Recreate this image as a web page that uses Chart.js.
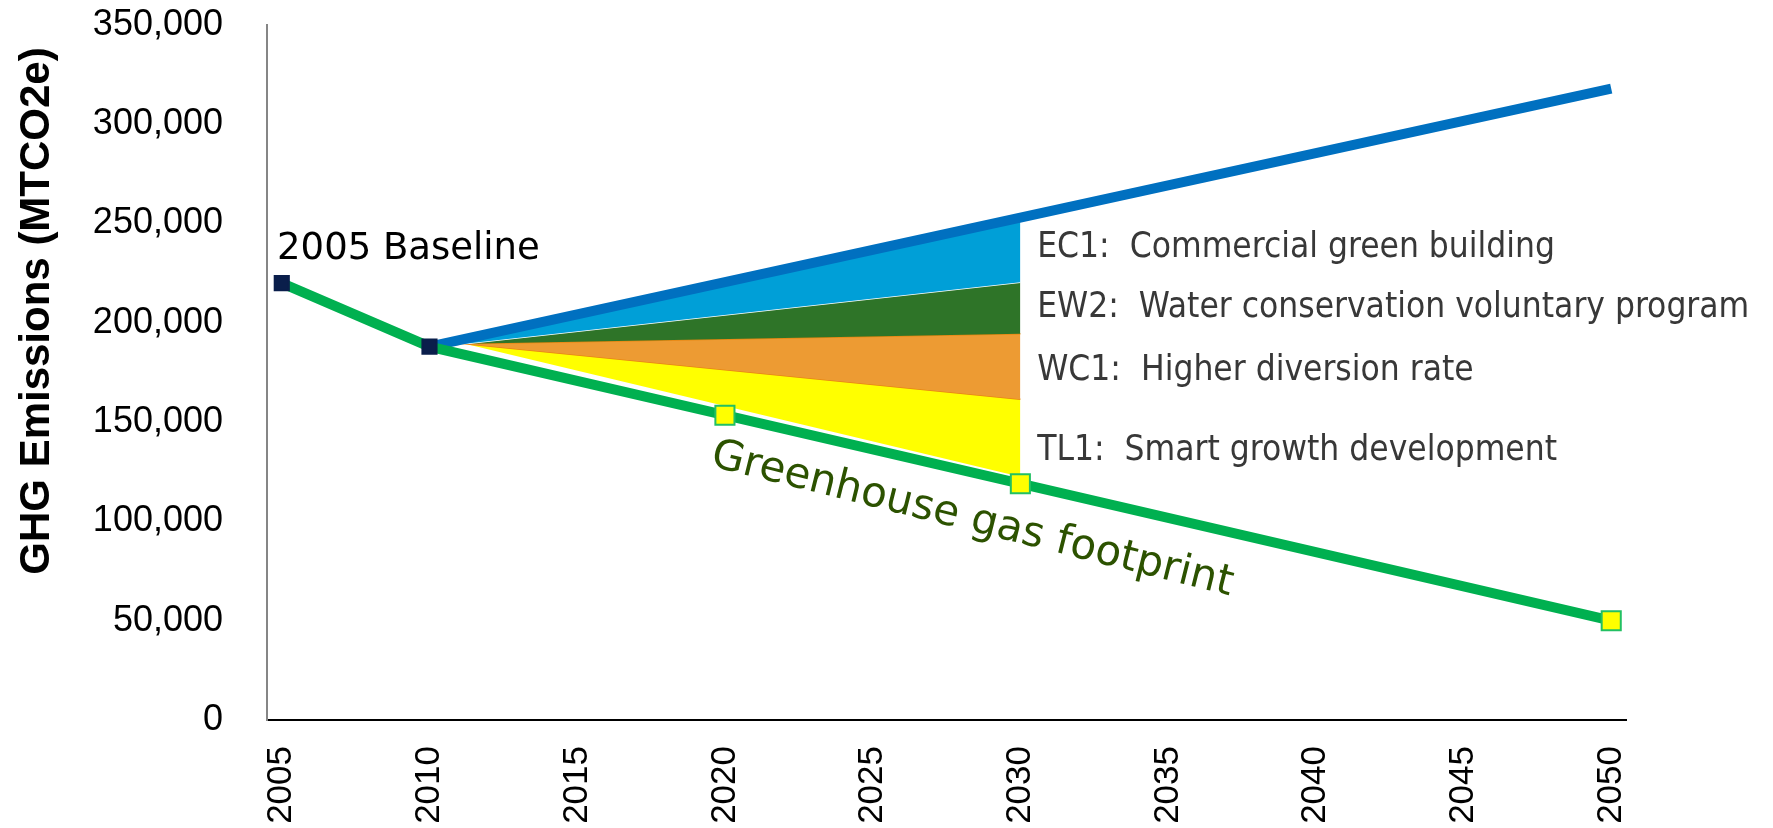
<!DOCTYPE html>
<html>
<head>
<meta charset="utf-8">
<script src="https://cdn.jsdelivr.net/npm/chart.js@4.4.1/dist/chart.umd.min.js"></script>
<style>
  html, body { margin: 0; padding: 0; background: #fff; }
  #wrap { width: 1773px; height: 828px; position: relative; }
</style>
</head>
<body>
<div id="wrap"><canvas id="graph"></canvas></div>
<script>
// years shown on the axis
const YEAR_TICKS = [2005, 2010, 2015, 2020, 2025, 2030, 2035, 2040, 2045, 2050];

// greenhouse gas footprint (target path)
const footprintYears = [2005, 2010, 2020, 2030, 2050];
const footprintValues = [220000, 188000, 153500, 119000, 50000];

// business as usual
const bauYears = [2010, 2050];
const bauValues = [188000, 318000];

// reduction wedges, boundaries from top to bottom
const wedgeYears = [2010, 2011.2, 2030];
const ec1Top = [188000, 191900, 252000];
const ec1Bottom = [188000, 189500, 220500];   // = EW2 top
const ew2Bottom = [188000, 189500, 194500];   // = WC1 top
const wc1Bottom = [188000, 189500, 161500];   // = TL1 top
const tl1Bottom = [188000, 189500, 122500];

const wedgeLabels = [
  'EC1:  Commercial green building',
  'EW2:  Water conservation voluntary program',
  'WC1:  Higher diversion rate',
  'TL1:  Smart growth development'
];
const wedgeLabelY = [237500, 207500, 175800, 135500];

function pts(xs, ys) {
  return xs.map((x, i) => ({ x: x, y: ys[i] }));
}

const NAVY = '#0a1e4b';
const GREEN = '#00b050';

const textPlugin = {
  id: 'texts',
  afterDraw(chart) {
    const c = chart.ctx;
    const xs = chart.scales.x, ys = chart.scales.y;
    c.save();
    // y axis title
    c.translate(37, 311);
    c.rotate(-Math.PI / 2);
    c.font = 'bold 42px "Liberation Sans", Arial, sans-serif';
    c.fillStyle = '#000';
    c.textAlign = 'center';
    c.textBaseline = 'middle';
    c.fillText('GHG Emissions (MTCO2e)', 0, 0);
    c.restore();

    c.save();
    c.fillStyle = '#000';
    c.font = '37px "DejaVu Sans", sans-serif';
    c.textAlign = 'left';
    c.textBaseline = 'middle';
    c.fillText('2005 Baseline', xs.getPixelForValue(2004.84), ys.getPixelForValue(237000));

    c.fillStyle = '#383838';
    c.font = '35px "DejaVu Sans Condensed", "DejaVu Sans", sans-serif';
    wedgeLabels.forEach((t, i) => {
      c.fillText(t, xs.getPixelForValue(2030.57), ys.getPixelForValue(wedgeLabelY[i]));
    });
    c.restore();

    c.save();
    c.translate(xs.getPixelForValue(2028.37), ys.getPixelForValue(100700));
    c.rotate(14 * Math.PI / 180);
    c.fillStyle = '#2c5200';
    c.font = '42px "DejaVu Sans", sans-serif';
    c.textAlign = 'center';
    c.textBaseline = 'middle';
    c.fillText('Greenhouse gas footprint', 0, 0);
    c.restore();
  }
};

const ctx = document.getElementById('graph').getContext('2d');

const myChart = new Chart(ctx, {
  type: 'line',
  data: {
    datasets: [
      {
        label: 'Greenhouse gas footprint',
        data: pts(footprintYears, footprintValues),
        borderColor: GREEN,
        borderWidth: 10,
        pointStyle: 'rect',
        pointRadius: [10, 10, 13.5, 13.5, 13.5],
        pointBackgroundColor: [NAVY, NAVY, '#ffff00', '#ffff00', '#ffff00'],
        pointBorderColor: [NAVY, NAVY, '#22c063', '#22c063', '#22c063'],
        pointBorderWidth: 2,
        fill: false
      },
      {
        label: 'Business as usual',
        data: pts(bauYears, bauValues),
        borderColor: '#0070c0',
        borderWidth: 10,
        pointRadius: 0,
        fill: false
      },
      {
        label: 'EC1',
        data: pts(wedgeYears, ec1Top),
        borderWidth: 0,
        pointRadius: 0,
        backgroundColor: '#009fd7',
        fill: '+1'
      },
      {
        label: 'EW2',
        data: pts(wedgeYears, ec1Bottom),
        borderColor: '#ffffff',
        borderWidth: 1.5,
        pointRadius: 0,
        backgroundColor: '#2e7428',
        fill: '+1'
      },
      {
        label: 'WC1',
        data: pts(wedgeYears, ew2Bottom),
        borderColor: '#e8860f',
        borderWidth: 1.5,
        pointRadius: 0,
        backgroundColor: '#ed9b33',
        fill: '+1'
      },
      {
        label: 'TL1',
        data: pts(wedgeYears, wc1Bottom),
        borderColor: '#e8860f',
        borderWidth: 1.5,
        pointRadius: 0,
        backgroundColor: '#ffff00',
        fill: '+1'
      },
      {
        label: 'TL1 bottom',
        data: pts(wedgeYears, tl1Bottom),
        borderWidth: 0,
        pointRadius: 0,
        fill: false
      }
    ]
  },
  options: {
    responsive: true,
    maintainAspectRatio: false,
    animation: false,
    layout: { padding: { top: 25, right: 147, bottom: 0, left: 0 } },
    plugins: {
      legend: { display: false },
      tooltip: { enabled: false }
    },
    elements: { line: { tension: 0 } },
    scales: {
      x: {
        type: 'linear',
        min: 2004.5,
        max: 2050.5,
        grid: { display: false },
        border: { display: true, color: '#000', width: 2 },
        afterBuildTicks: (s) => { s.ticks = YEAR_TICKS.map(v => ({ value: v })); },
        afterFit: (s) => {
          s.height = 108;
          s.paddingLeft = 0; s.paddingRight = 0; s.paddingTop = 0; s.paddingBottom = 0;
        },
        ticks: {
          autoSkip: false,
          minRotation: 90,
          maxRotation: 90,
          padding: 18,
          color: '#000',
          font: { family: '"Liberation Sans", Arial, sans-serif', size: 35 },
          callback: (v) => String(v)
        }
      },
      y: {
        min: 0,
        max: 350000,
        grid: { display: false },
        border: { display: true, color: '#868686', width: 2 },
        afterFit: (s) => {
          s.width = 267;
          s.paddingLeft = 0; s.paddingRight = 0; s.paddingTop = 0; s.paddingBottom = 0;
        },
        ticks: {
          stepSize: 50000,
          padding: 36,
          color: '#000',
          font: { family: '"Liberation Sans", Arial, sans-serif', size: 36 },
          callback: (v) => v.toLocaleString('en-US')
        }
      }
    }
  },
  plugins: [textPlugin]
});
</script>
</body>
</html>
